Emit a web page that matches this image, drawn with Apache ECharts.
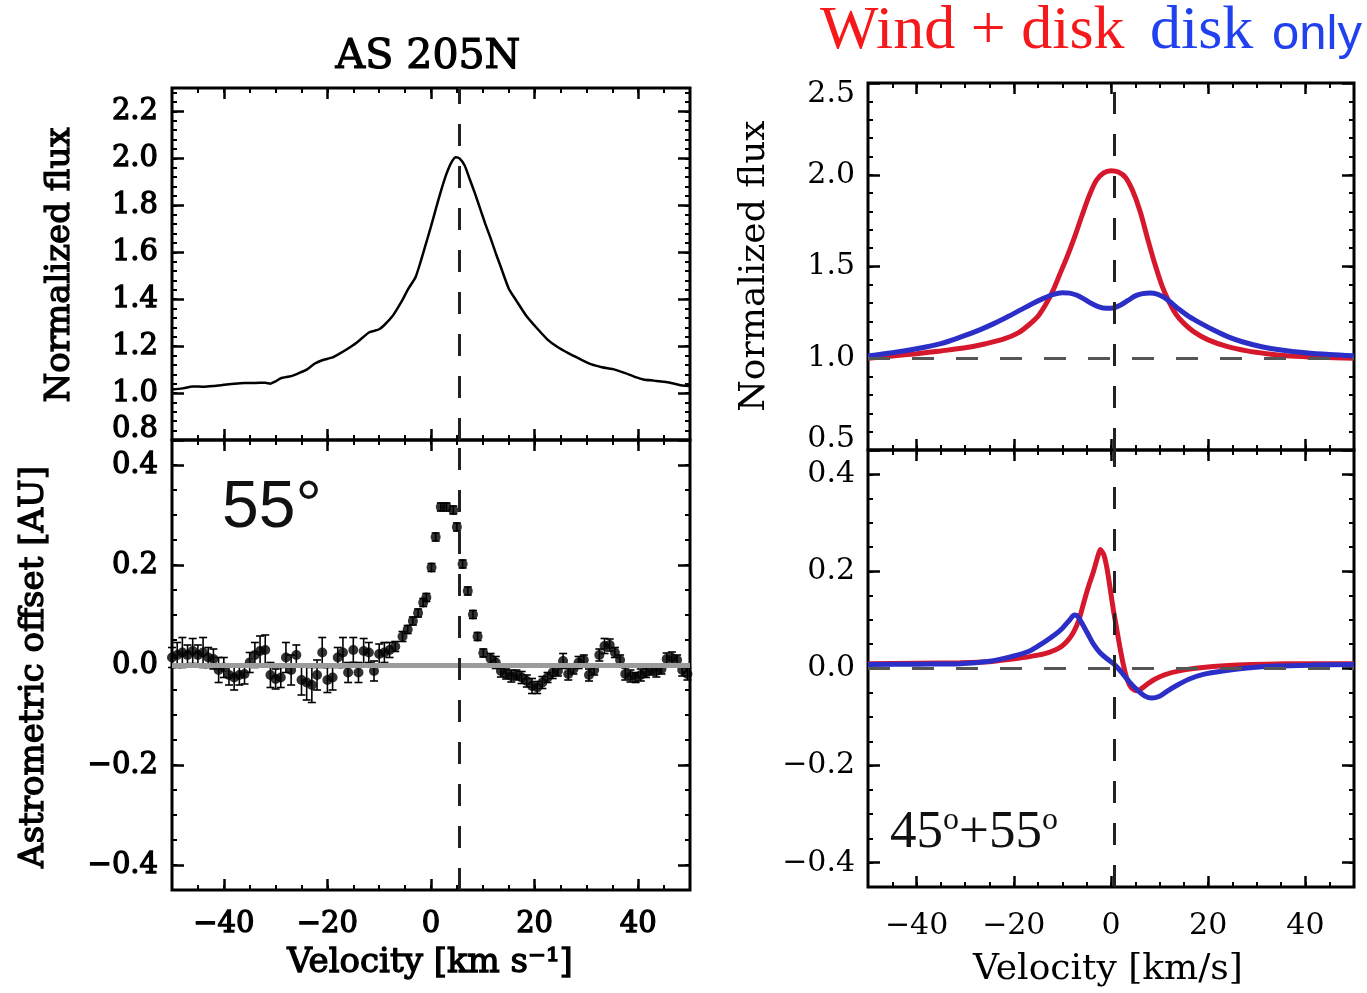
<!DOCTYPE html>
<html>
<head>
<meta charset="utf-8">
<script src="https://cdn.jsdelivr.net/npm/echarts@6/dist/echarts.min.js"></script>
<style>
  html, body { margin: 0; padding: 0; background: #fff; }
  #chart { width: 1367px; height: 993px; }
</style>
</head>
<body>
<div id="chart"></div>
<script>
// ---- observed line profile, AS 205N (top left)
var velObs = [-50, -48, -46, -44, -42, -40, -38, -36, -34, -32, -31, -30, -29, -27, -25.5, -24, -22.5, -21, -19, -17.5,
  -16, -14.5, -13, -12, -11, -10, -9, -7.5, -6.5, -5.5, -4.5, -3, -2, -1, 0, 1, 2, 3, 4, 4.8, 5.5, 6.5, 7.5, 8.5,
  9.5, 10.5, 11.5, 12.5, 13.5, 15, 16.5, 18.5, 20.5, 22.5, 24.5, 26.5, 28.5, 31, 33, 35.5, 37.5, 39.5, 41, 43, 45,
  47, 48.5, 50];
var fluxObs = [1.015, 1.02, 1.028, 1.027, 1.03, 1.035, 1.04, 1.043, 1.043, 1.044, 1.04, 1.05, 1.063, 1.072, 1.085,
  1.1, 1.125, 1.14, 1.152, 1.17, 1.19, 1.212, 1.24, 1.258, 1.265, 1.272, 1.29, 1.326, 1.36, 1.397, 1.44, 1.493, 1.56,
  1.635, 1.71, 1.79, 1.867, 1.935, 1.985, 2.005, 2.0, 1.97, 1.91, 1.85, 1.785, 1.72, 1.66, 1.596, 1.536, 1.446, 1.393,
  1.326, 1.275, 1.228, 1.195, 1.17, 1.148, 1.122, 1.11, 1.1, 1.085, 1.068, 1.058, 1.053, 1.048, 1.04, 1.032, 1.03];

// ---- astrometric offset, AS 205N (bottom left)
var velAstro = [-50, -49, -48, -47, -46, -45, -44, -43, -42, -41, -40, -39, -38, -37, -36, -35, -34, -33, -32, -31,
  -30, -29, -28, -27, -26, -25, -24, -23, -22, -21, -20, -19, -18, -17, -16, -15, -14, -13, -12, -11, -10, -9, -8,
  -6.9, -5.5, -4.5, -3.5, -2.5, -1.5, -0.9, 0.1, 0.9, 1.9, 3.0, 4.3, 5.0, 6.1, 7.1, 8.1, 9.0, 10.1, 11.5,
  12.5, 13.5, 14.5, 15.5, 16.5, 17.5, 18.5, 19.5, 20.5, 21.5, 22.5, 23.5, 24.5, 25.5, 26.5, 27.5, 28.5, 29.5, 30.5,
  31.5, 32.5, 33.5, 34.5, 35.5, 36.5, 37.5, 38.5, 39.5, 40.5, 41.5, 42.5, 43.5, 44.5, 45.5, 46.5, 47.5, 48.5, 49.5];
var offAstro = [0.015, 0.02, 0.025, 0.02, 0.028, 0.02, 0.025, 0.015, 0.012, -0.01, -0.005, -0.02, -0.025, -0.02,
  -0.018, 0.005, 0.02, 0.028, 0.03, -0.02, -0.028, -0.025, 0.015, -0.01, 0.02, -0.03, -0.035, -0.04, -0.02, 0.025,
  -0.03, -0.025, 0.015, 0.025, -0.015, 0.03, -0.015, 0.028, 0.025, -0.012, 0.022, 0.025, 0.03,
  0.037, 0.057, 0.071, 0.088, 0.104, 0.125, 0.135, 0.195, 0.256, 0.316, 0.316, 0.31, 0.276, 0.202, 0.148, 0.101,
  0.057, 0.024, 0.013,
  0.005, -0.012, -0.018, -0.022, -0.02, -0.025, -0.032, -0.042, -0.045, -0.035, -0.025, -0.015, -0.012, 0.008,
  -0.018, -0.008, 0.005, 0.01, -0.02, -0.01, 0.02, 0.038, 0.04, 0.025, 0.01, -0.018, -0.022, -0.025, -0.02, -0.015,
  -0.01, -0.012, -0.008, 0.012, 0.014, 0.01, -0.01, -0.018];
var errAstro = [0.02, 0.025, 0.03, 0.02, 0.025, 0.02, 0.03, 0.02, 0.02, 0.025, 0.02, 0.02, 0.025, 0.02, 0.02, 0.02,
  0.025, 0.03, 0.03, 0.025, 0.02, 0.02, 0.03, 0.03, 0.02, 0.03, 0.035, 0.035, 0.03, 0.03, 0.025, 0.025, 0.02, 0.03,
  0.02, 0.025, 0.02, 0.025, 0.02, 0.02, 0.02, 0.02, 0.015,
  0.01, 0.01, 0.008, 0.008, 0.008, 0.008, 0.008, 0.008, 0.008, 0.008, 0.008, 0.008, 0.008, 0.008, 0.008, 0.008,
  0.008, 0.008, 0.01,
  0.012, 0.012, 0.01, 0.012, 0.01, 0.012, 0.012, 0.015, 0.012, 0.012, 0.01, 0.012, 0.01, 0.015, 0.012, 0.01, 0.012,
  0.01, 0.012, 0.01, 0.012, 0.015, 0.012, 0.01, 0.01, 0.012, 0.012, 0.01, 0.012, 0.01, 0.01, 0.012, 0.01, 0.012,
  0.012, 0.01, 0.012, 0.012];

// ---- model, normalized flux (top right)
var velWindFlux = [-50, -45, -40, -35, -30, -26, -22, -19, -17, -15, -13.5, -12, -10.5, -9, -7.5, -6, -4.5, -3, -1.5,
  0, 1.5, 3, 4.5, 6, 7.5, 9, 10.5, 12, 13.5, 15, 17, 20, 24, 28, 32, 37, 43, 50];
var windFlux = [1.0, 1.012, 1.025, 1.04, 1.057, 1.078, 1.105, 1.14, 1.18, 1.23, 1.29, 1.365, 1.46, 1.555, 1.66,
  1.775, 1.885, 1.97, 2.01, 2.022, 2.015, 1.985, 1.91, 1.8, 1.655, 1.516, 1.395, 1.305, 1.235, 1.19, 1.145, 1.1,
  1.063, 1.04, 1.025, 1.012, 1.005, 1.0];
var velDiskFlux = [-50, -45, -40, -35, -31, -27, -24, -21, -18.5, -16, -14, -12, -10, -8.5, -7, -5.5, -4, -2.5, -1,
  0.5, 2, 3.5, 5, 6.5, 8, 9.5, 11, 12.5, 14, 16, 18.5, 21, 24, 27, 31, 35, 40, 45, 50];
var diskFlux = [1.013, 1.03, 1.052, 1.08, 1.115, 1.155, 1.19, 1.23, 1.265, 1.3, 1.325, 1.347, 1.357, 1.355, 1.343,
  1.322, 1.298, 1.28, 1.272, 1.274, 1.29, 1.315, 1.34, 1.352, 1.356, 1.35, 1.33, 1.3, 1.267, 1.228, 1.19, 1.155,
  1.118, 1.09, 1.063, 1.045, 1.03, 1.02, 1.013];

// ---- model, astrometric offset (bottom right)
var velWindOff = [-50, -40, -31, -25, -20.7, -17, -13.8, -11.5, -10, -8.7, -7.7, -6.6, -5.6, -4.6, -3.6, -2.8, -2.2,
  -1.5, -0.8, -0.1, 0.5, 1.2, 1.9, 2.6, 3.3, 4.2, 5.3, 6.2, 7.5, 9, 11, 14, 17, 21, 26, 32, 40, 50];
var windOff = [0.01, 0.011, 0.012, 0.014, 0.019, 0.024, 0.03, 0.038, 0.047, 0.06, 0.075, 0.1, 0.136, 0.17, 0.2,
  0.228, 0.245, 0.235, 0.205, 0.16, 0.12, 0.08, 0.04, 0.005, -0.022, -0.04, -0.046, -0.042, -0.032, -0.022, -0.013,
  -0.005, 0.0, 0.004, 0.007, 0.009, 0.01, 0.01];
var velDiskOff = [-50, -40, -31, -25, -20.7, -17, -13.8, -11.5, -10, -8.5, -7.5, -6.8, -5.8, -4.7, -3.6, -2.3, -0.8,
  0.5, 1.5, 2.5, 4, 5.5, 7, 8.4, 10, 11.5, 13.5, 16, 19, 23, 28, 34, 42, 50];
var diskOff = [0.008, 0.009, 0.01, 0.015, 0.024, 0.035, 0.054, 0.07, 0.083, 0.1, 0.11, 0.107, 0.09, 0.07, 0.05,
  0.033, 0.02, 0.01, 0.0, -0.012, -0.03, -0.045, -0.057, -0.061, -0.057, -0.047, -0.035, -0.022, -0.012, -0.005,
  0.001, 0.005, 0.007, 0.008];

// ---- ticks and reference lines
var velTicks = [-40, -20, 0, 20, 40];
var fluxTicksObs = [0.8, 1.0, 1.2, 1.4, 1.6, 1.8, 2.0, 2.2];
var fluxTicksModel = [0.5, 1.0, 1.5, 2.0, 2.5];
var offTicks = [-0.4, -0.2, 0.0, 0.2, 0.4];
var vSysObs = 5.5, vSysModel = 0.7;

function zip(a, b) {
  return a.map(function (v, i) { return [v, b[i]]; });
}

// left panels: semi-bold look (normal face + thin outline)
var fontL = { fontFamily: 'DejaVu Serif', fontSize: 29, color: '#000', textBorderColor: '#000', textBorderWidth: 1.3 },
  fontR = { fontFamily: 'DejaVu Serif', fontSize: 30, color: '#000' };

function fmtNum(v, dec, min, max) {
  var s = (Math.abs(v) < 1e-9 ? 0 : v).toFixed(dec).replace('-', '\u2212');
  if (min !== undefined && Math.abs(v - min) < 1e-9) return '{lo|' + s + '}';
  if (max !== undefined && Math.abs(v - max) < 1e-9) return '{hi|' + s + '}';
  return s;
}

var grids = [], xAxes = [], yAxes = [];

function addGrid(rect) {
  grids.push(Object.assign({ show: true, borderColor: '#000', borderWidth: 3, backgroundColor: 'transparent' }, rect));
  return grids.length - 1;
}

// one box side: a major axis (custom ticks + labels) and a minor axis (short ticks)
function addAxis(list, grid, pos, min, max, ticks, step, label, majorLen) {
  var idx = list.length;
  list.push({
    type: 'value', gridIndex: grid, position: pos, min: min, max: max,
    axisLine: { show: false, onZero: false }, splitLine: { show: false },
    axisTick: { show: true, inside: true, length: majorLen, customValues: ticks, lineStyle: { color: '#000', width: 2.5 } },
    axisLabel: label ? Object.assign({ customValues: ticks }, label) : { show: false }
  });
  list.push({
    type: 'value', gridIndex: grid, position: pos, min: min, max: max, interval: step,
    axisLine: { show: false, onZero: false }, splitLine: { show: false },
    axisTick: { show: true, inside: true, length: 5, lineStyle: { color: '#000', width: 2 } },
    axisLabel: { show: false }
  });
  return idx;
}

function addBox(rect, ymin, ymax, yTicks, yStep, yLabel, xLabel) {
  var g = addGrid(rect);
  var xi = addAxis(xAxes, g, 'bottom', -50, 50, velTicks, 5, xLabel, 11);
  addAxis(xAxes, g, 'top', -50, 50, velTicks, 5, null, 11);
  var yi = addAxis(yAxes, g, 'left', ymin, ymax, yTicks, yStep, yLabel, 12);
  addAxis(yAxes, g, 'right', ymin, ymax, yTicks, yStep, null, 12);
  return { x: xi, y: yi };
}

var richShift = {
  lo: { padding: [0, 0, 22, 0] },
  hi: { padding: [22, 0, 0, 0] }
};

var boxObsFlux = addBox({ left: 172, top: 88, width: 518, height: 352 }, 0.8, 2.3, fluxTicksObs, 0.04,
  Object.assign({ margin: 14, rich: richShift, formatter: function (v) { return fmtNum(v, 1, 0.8); } }, fontL), null);
var boxObsOff = addBox({ left: 172, top: 440, width: 518, height: 450 }, -0.45, 0.45, offTicks, 0.05,
  Object.assign({ margin: 14, formatter: function (v) { return fmtNum(v, 1); } }, fontL),
  Object.assign({ margin: 20, formatter: function (v) { return fmtNum(v, 0); } }, fontL));
var boxModFlux = addBox({ left: 868, top: 83, width: 486, height: 367 }, 0.5, 2.5, fluxTicksModel, 0.1,
  Object.assign({ margin: 13, rich: richShift, formatter: function (v) { return fmtNum(v, 1, 0.5, 2.5); } }, fontR), null);
var boxModOff = addBox({ left: 868, top: 450, width: 486, height: 437 }, -0.45, 0.45, offTicks, 0.05,
  Object.assign({ margin: 13, formatter: function (v) { return fmtNum(v, 1); } }, fontR),
  Object.assign({ margin: 24, formatter: function (v) { return fmtNum(v, 0); } }, fontR));

var RED = '#d5182c', BLUE = '#2b2fc7';

function guide(box, mark, style, z) {
  return {
    type: 'line', xAxisIndex: box.x, yAxisIndex: box.y, data: [], z: z, silent: true,
    markLine: { symbol: 'none', silent: true, animation: false, label: { show: false }, lineStyle: style, data: [mark] }
  };
}

var dashBlack = { color: '#222', width: 3, type: [22, 20] },
  dashGrey = { color: '#555', width: 3, type: [22, 22] };

var series = [
  // top left
  {
    type: 'line', xAxisIndex: boxObsFlux.x, yAxisIndex: boxObsFlux.y, data: zip(velObs, fluxObs),
    showSymbol: false, smooth: 0.2, lineStyle: { color: '#000', width: 2.5 }, z: 3
  },
  guide(boxObsFlux, { xAxis: vSysObs }, dashBlack, 5),
  // bottom left
  {
    type: 'custom', xAxisIndex: boxObsOff.x, yAxisIndex: boxObsOff.y, z: 2,
    data: velAstro.map(function (v, i) { return [v, offAstro[i], errAstro[i]]; }),
    encode: { x: 0, y: 1 },
    renderItem: function (params, api) {
      var x = api.value(0), y = api.value(1), e = api.value(2),
        lo = api.coord([x, y - e]), hi = api.coord([x, y + e]), w = 4,
        st = { stroke: '#000', lineWidth: 1.6 };
      return {
        type: 'group', children: [
          { type: 'line', shape: { x1: lo[0], y1: lo[1], x2: hi[0], y2: hi[1] }, style: st },
          { type: 'line', shape: { x1: lo[0] - w, y1: lo[1], x2: lo[0] + w, y2: lo[1] }, style: st },
          { type: 'line', shape: { x1: hi[0] - w, y1: hi[1], x2: hi[0] + w, y2: hi[1] }, style: st }
        ]
      };
    }
  },
  {
    type: 'scatter', xAxisIndex: boxObsOff.x, yAxisIndex: boxObsOff.y, z: 3,
    data: zip(velAstro, offAstro), symbol: 'circle', symbolSize: 10, itemStyle: { color: '#000' }
  },
  guide(boxObsOff, { yAxis: 0 }, { color: '#9b9b9b', width: 5, type: 'solid' }, 4),
  guide(boxObsOff, { xAxis: vSysObs }, dashBlack, 5),
  // top right
  guide(boxModFlux, { yAxis: 1.0 }, dashGrey, 1),
  {
    type: 'line', xAxisIndex: boxModFlux.x, yAxisIndex: boxModFlux.y, data: zip(velWindFlux, windFlux),
    showSymbol: false, smooth: 0.3, lineStyle: { color: RED, width: 5 }, z: 3
  },
  {
    type: 'line', xAxisIndex: boxModFlux.x, yAxisIndex: boxModFlux.y, data: zip(velDiskFlux, diskFlux),
    showSymbol: false, smooth: 0.3, lineStyle: { color: BLUE, width: 5 }, z: 3
  },
  guide(boxModFlux, { xAxis: vSysModel }, dashBlack, 5),
  // bottom right
  guide(boxModOff, { yAxis: 0 }, dashGrey, 1),
  {
    type: 'line', xAxisIndex: boxModOff.x, yAxisIndex: boxModOff.y, data: zip(velWindOff, windOff),
    showSymbol: false, smooth: 0.2, lineStyle: { color: RED, width: 5 }, z: 3
  },
  {
    type: 'line', xAxisIndex: boxModOff.x, yAxisIndex: boxModOff.y, data: zip(velDiskOff, diskOff),
    showSymbol: false, smooth: 0.3, lineStyle: { color: BLUE, width: 5 }, z: 3
  },
  guide(boxModOff, { xAxis: vSysModel }, dashBlack, 5)
];

function label(text, x, y, font, extra) {
  return Object.assign({
    type: 'text', x: x, y: y, silent: true, z: 10,
    style: Object.assign({ text: text, align: 'center', verticalAlign: 'middle', fill: '#000' }, font)
  }, extra || {});
}

var serifL = { fontFamily: 'DejaVu Serif', fontSize: 34, stroke: '#000', lineWidth: 1.3 },
  serifR = { fontFamily: 'DejaVu Serif', fontSize: 36 };

var graphic = [
  label('AS 205N', 428, 57, { fontFamily: 'DejaVu Serif', fontSize: 41, stroke: '#000', lineWidth: 1.2 }),
  label('Normalized flux', 60, 265, serifL, { rotation: Math.PI / 2 }),
  label('Astrometric offset [AU]', 34, 667, serifL, { rotation: Math.PI / 2 }),
  label('Velocity [km s\u207B\u00B9]', 430, 963, serifL),
  label('Normalized flux', 755, 266, serifR, { rotation: Math.PI / 2 }),
  label('Velocity [km/s]', 1108, 970, serifR),
  label('55\u00B0', 222, 509, { fontFamily: 'Liberation Sans', fontSize: 66, align: 'left', fill: '#111' }),
  {
    type: 'text', x: 890, y: 833, silent: true, z: 10,
    style: {
      text: '{n|45}{s|o}{n|+55}{s|o}', align: 'left', verticalAlign: 'middle',
      rich: {
        n: { fontFamily: 'Liberation Serif', fontSize: 53, fill: '#111', lineHeight: 56 },
        s: { fontFamily: 'Liberation Serif', fontSize: 32, fill: '#111', verticalAlign: 'top', lineHeight: 56 }
      }
    }
  },
  label('Wind + disk', 820, 32, { fontFamily: 'Liberation Serif', fontSize: 62, align: 'left', fill: '#f5191c' }),
  label('disk', 1150, 32, { fontFamily: 'Liberation Serif', fontSize: 62, align: 'left', fill: '#2140ee' }),
  label('only', 1272, 35, { fontFamily: 'Liberation Sans', fontSize: 49, align: 'left', fill: '#2140ee' })
];

var chart = echarts.init(document.getElementById('chart'));
chart.setOption({
  backgroundColor: '#fff',
  animation: false,
  grid: grids,
  xAxis: xAxes,
  yAxis: yAxes,
  series: series,
  graphic: graphic
});
</script>
</body>
</html>
